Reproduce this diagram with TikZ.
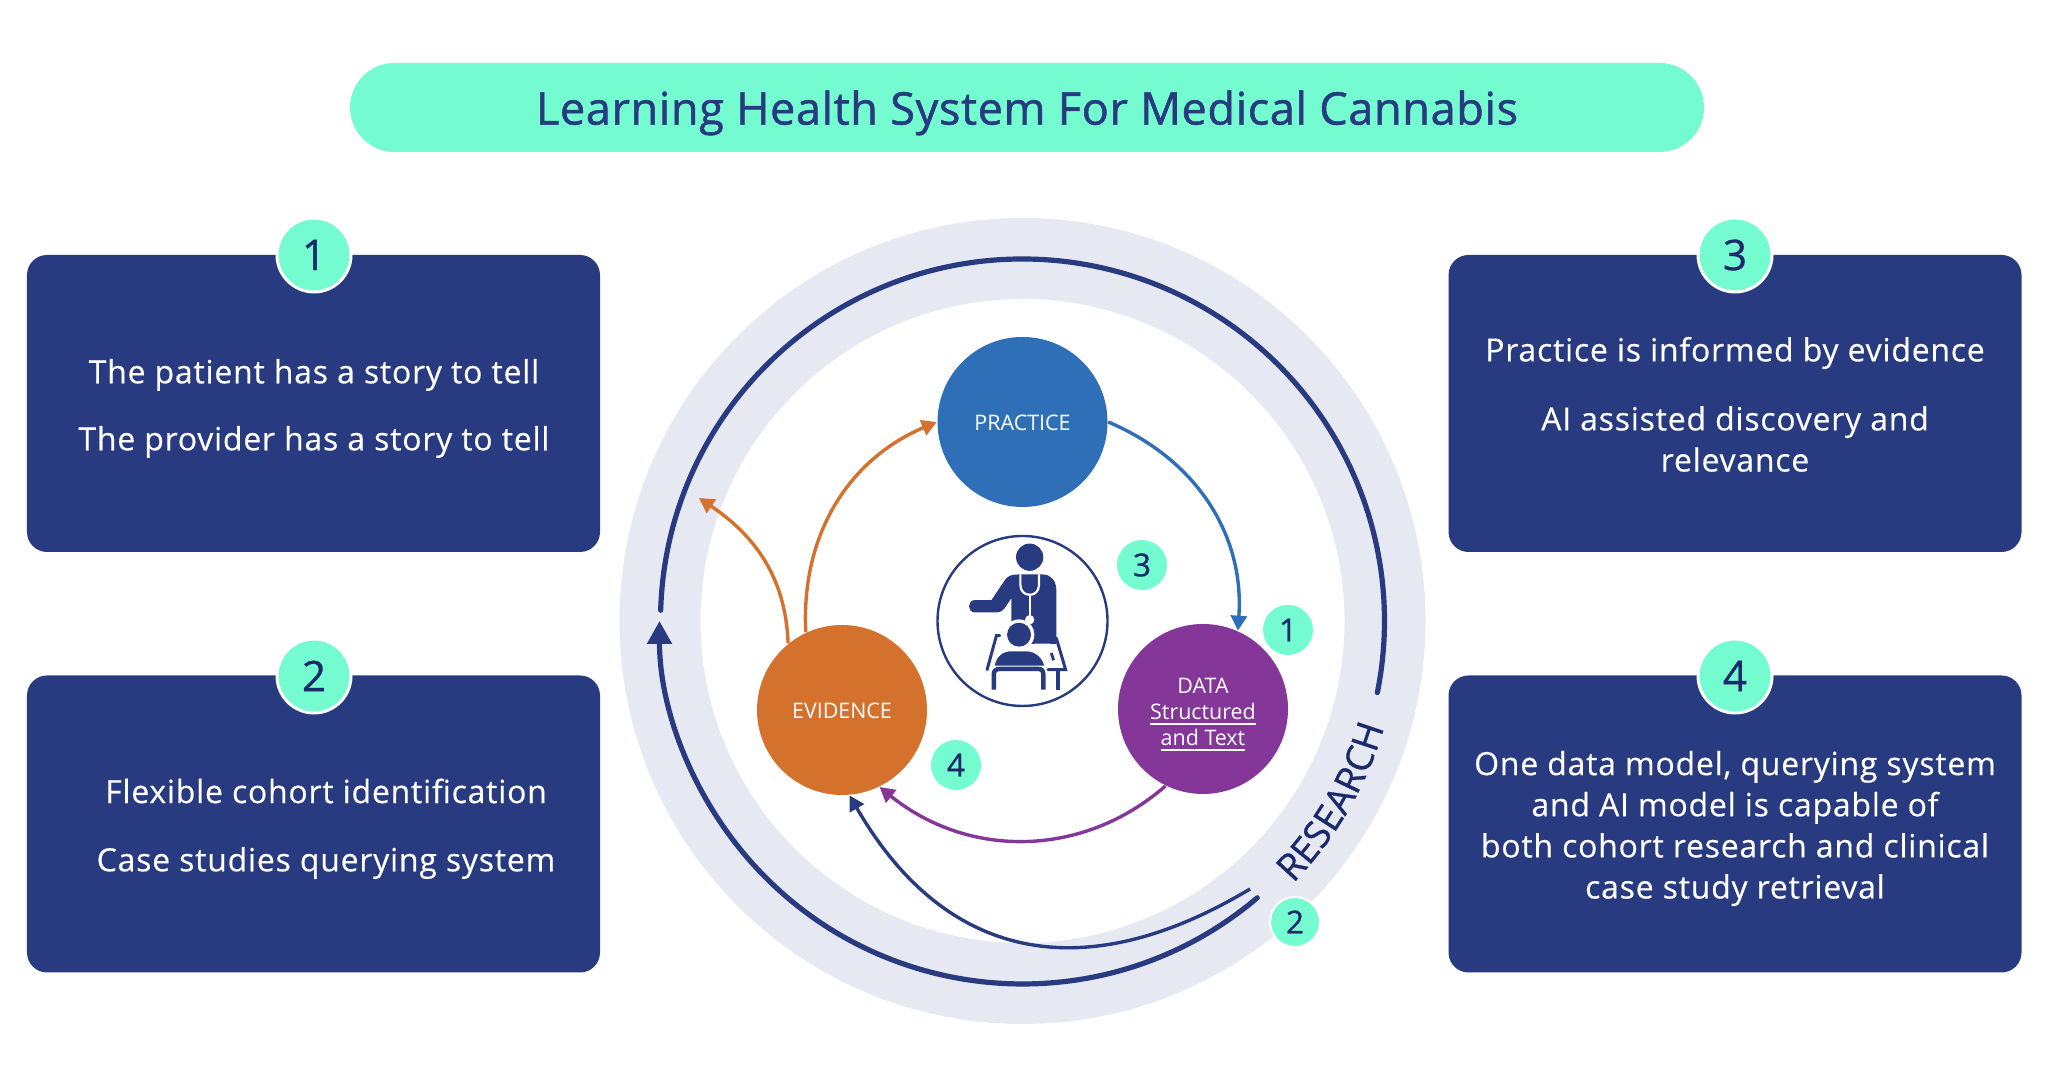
\documentclass[tikz,border=0pt]{standalone}
\usepackage{fontspec}
\setmainfont{Open Sans}
\newfontfamily\titlefont[LetterSpace=1.5,FakeBold=1.2]{Open Sans}
\newfontfamily\boxfont[LetterSpace=2.5,FakeBold=0.4]{Open Sans}
\newfontfamily\digitfont[FakeBold=0.8]{Open Sans}
\usetikzlibrary{arrows.meta,decorations.text}
\definecolor{navybox}{HTML}{283A80}
\definecolor{aqua}{HTML}{75FBD0}
\definecolor{digitnavy}{HTML}{1B2A6B}
\definecolor{ringgrey}{HTML}{E6E8F2}
\definecolor{practiceblue}{HTML}{2E6FB7}
\definecolor{dataviolet}{HTML}{843798}
\definecolor{evidenceorange}{HTML}{D3712D}
\tikzset{
  infobox/.style={fill=navybox, rounded corners=0.2cm, minimum width=5.73cm, minimum height=2.97cm},
  infotext/.style={text=white, align=center, font=\boxfont\fontsize{9.08}{11.7}\selectfont},
  bigbadge/.style={circle, fill=aqua, draw=white, line width=0.03cm, minimum size=0.74cm, inner sep=0pt, text=digitnavy, font=\digitfont\fontsize{12}{14}\selectfont},
  smallbadge/.style={circle, fill=aqua, minimum size=0.5cm, inner sep=0pt, text=digitnavy, font=\digitfont\fontsize{9}{10}\selectfont},
  stage/.style={circle, minimum size=1.7cm, inner sep=0pt, text=white, align=center, font=\fontsize{6.1}{7.4}\selectfont},
  thinarrow/.style={line width=0.034cm, -{Triangle[length=0.15cm,width=0.16cm]}},
  mainarc/.style={draw=navybox, line width=0.052cm, line cap=round}
}
\begin{document}
\begin{tikzpicture}
\useasboundingbox (0,0) rectangle (20.5,10.78);
% Title
\node[fill=aqua, rounded corners=0.445cm, minimum width=13.54cm, minimum height=0.89cm, text depth=0pt, text=navybox, font=\titlefont\fontsize{12.8}{14}\selectfont] (title) at (10.27,9.705) {Learning Health System For Medical Cannabis};
% Left boxes
\node[infobox] (boxa) at (3.135,6.745) {};
\node[infobox] (boxb) at (3.135,2.54) {};
\node[infotext] (texta) at (3.14,7.03) {The patient has a story to tell};
\node[infotext] (textb) at (3.14,6.36) {The provider has a story to tell};
\node[infotext] (textc) at (3.26,2.87) {Flexible cohort identification};
\node[infotext] (textd) at (3.26,2.15) {Case studies querying system};
\node[bigbadge] (badgea) at (3.14,8.23) {1};
\node[bigbadge] (badgeb) at (3.14,4.02) {2};
% Right boxes
\node[infobox] (boxc) at (17.35,6.745) {};
\node[infobox] (boxd) at (17.35,2.54) {};
\node[infotext] (texte) at (17.35,7.25) {Practice is informed by evidence};
\node[infotext] (textf) at (17.35,6.39) {AI assisted discovery and\\relevance};
\node[infotext] (textg) at (17.35,2.495) {One data model, querying system\\and AI model is capable of\\both cohort research and clinical\\case study retrieval};
\node[bigbadge] (badgec) at (17.35,8.23) {3};
\node[bigbadge] (badged) at (17.35,4.02) {4};
% Ring
\coordinate (ringcentre) at (10.225,4.57);
\draw[ringgrey, line width=0.81cm] (ringcentre) circle (3.625);
\draw[mainarc] (ringcentre) ++(178.3:3.62) arc[start angle=178.3, end angle=-11.4, radius=3.62];
\draw[mainarc, -{Triangle[length=0.23cm,width=0.24cm]}] (ringcentre) ++(-49.7:3.63) arc[start angle=-49.7, end angle=-180, radius=3.63];
\path[decorate, decoration={text along path, text align=center, text={|\color{digitnavy}\digitfont\fontsize{10.6}{12}\selectfont|RESEARCH}}] (ringcentre) ++(-47:3.77) arc[start angle=-47, end angle=-13.5, radius=3.77];
% Stages
\node[stage, fill=practiceblue, text height=0.175cm] (practice) at (10.225,6.56) {PRACTICE};
\node[stage, fill=evidenceorange, text height=0.175cm] (evidence) at (8.42,3.68) {EVIDENCE};
\node[stage, fill=dataviolet] (data) at (12.03,3.69) {};
\node[stage] (datatext) at (12.03,3.63) {DATA\\\underline{Structured}\\\underline{and Text}};
\coordinate (researchfrom) at (12.50,1.89);
\coordinate (researchtip) at (6.99,5.80);
\draw[thinarrow, practiceblue] (practice.east) to[out=-23, in=86] (data.66);
\draw[thinarrow, dataviolet] (data.-116) to[out=-139, in=-39] (evidence.-64);
\draw[thinarrow, evidenceorange] (evidence.115) to[out=93, in=-157] (practice.west);
\draw[thinarrow, evidenceorange] (evidence.129) to[out=92, in=-34] (researchtip);
\draw[thinarrow, navybox] (researchfrom) to[out=211, in=-60, looseness=1.2] (evidence.-85);
% Small badges
\node[smallbadge] (smalla) at (12.88,4.48) {1};
\node[smallbadge, draw=white, line width=0.02cm] (smallb) at (12.95,1.56) {2};
\node[smallbadge] (smallc) at (11.42,5.13) {3};
\node[smallbadge] (smalld) at (9.56,3.13) {4};
% Icon
\node[circle, draw=navybox, line width=0.024cm, minimum size=1.7cm, inner sep=0pt] (iconring) at (ringcentre) {};
\begin{scope}[shift={(8.80,5.78)}, x=0.0033333cm, y=-0.0033333cm]
\fill[navybox] (450,172) circle[radius=41];
\fill[navybox] (285,301) -- (335,301) -- (378,237) .. controls (390,224) and (405,224) .. (415,224) -- (490,224) .. controls (515,224) and (530,245) .. (530,270) -- (530,420) -- (395,420) -- (395,295) -- (375,325) .. controls (365,338) and (355,338) .. (350,338) -- (285,338) .. controls (262,338) and (262,301) .. (285,301) -- cycle;
\draw[white, line width=0.022cm] (422,224) -- (422,255) .. controls (422,275) and (435,285) .. (450,285) .. controls (465,285) and (478,275) .. (478,255) -- (478,224);
\draw[white, line width=0.022cm] (450,285) -- (450,350);
\fill[white] (450,360) circle[radius=14];
\fill[navybox] (395,410) rectangle (530,432);
\fill[white] (465,432) -- (512,432) -- (545,503) -- (505,503) .. controls (495,470) and (480,455) .. (455,447) -- cycle;
\draw[navybox, line width=0.028cm] (515,460) -- (522,482);
\draw[navybox, line width=0.03cm, line cap=round] (530,415) -- (558,510) -- (505,510);
\draw[navybox, line width=0.045cm] (535,510) -- (535,570);
\draw[navybox, line width=0.03cm, line cap=round] (360,408) -- (350,408) -- (322,510);
\fill[white] (418,405) circle[radius=46];
\fill[navybox] (418,405) circle[radius=36];
\fill[navybox] (345,498) .. controls (350,470) and (370,455) .. (395,455) -- (440,455) .. controls (470,455) and (490,480) .. (493,498) -- cycle;
\draw[navybox, line width=0.045cm] (342,570) -- (342,525) .. controls (342,512) and (350,508) .. (360,508) -- (475,508) .. controls (485,508) and (491,512) .. (491,525) -- (491,570);
\end{scope}
\end{tikzpicture}
\end{document}
